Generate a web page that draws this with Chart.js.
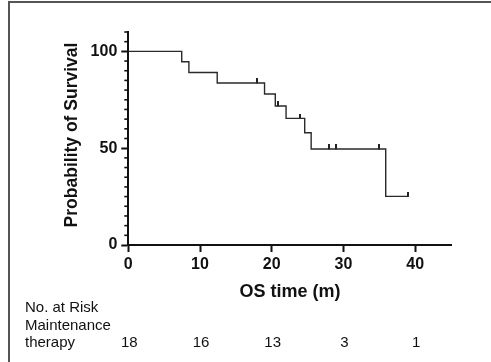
<!DOCTYPE html>
<html>
<head>
<meta charset="UTF-8">
<script src="https://cdn.jsdelivr.net/npm/chart.js"></script>
<style>
  html, body { margin: 0; padding: 0; background: #fff; }
  #wrap { position: relative; width: 491px; height: 362px; overflow: hidden; }
  #frame { position: absolute; left: 8px; top: 1px; width: 600px; height: 600px;
           border-top: 2px solid #555; border-left: 2px solid #555; }
  canvas { position: absolute; left: 0; top: 0; }
</style>
</head>
<body>
<div id="wrap">
  <div id="frame"></div>
  <canvas id="km" width="491" height="362"></canvas>
</div>
<script>
// Kaplan-Meier curve (time in months, survival in %)
const eventTimes = [0, 7.45, 8.45, 12.4, 19.0, 20.5, 22.0, 24.6, 25.5, 35.9, 39.0];
const survival   = [100, 94.6, 89.1, 83.7, 78.0, 71.8, 65.4, 58.0, 49.6, 25.1, 25.1];
// censored observations
const censorTimes = [18.0, 20.9, 24.0, 28.0, 29.0, 35.0, 39.0];
const censorSurv  = [83.7, 71.8, 65.4, 49.6, 49.6, 49.6, 25.1];
// numbers at risk
const riskTimes  = [0, 10, 20, 30, 40];
const riskCounts = [18, 16, 13, 3, 1];
const riskLabels = ['No. at Risk', 'Maintenance', 'therapy'];
const xTicks = [0, 10, 20, 30, 40];
const yLabelled = [0, 50, 100];

const FONT = "'Liberation Sans', Arial, sans-serif";
const INK = '#111';

// censor mark: short vertical stroke above the line
const censorMark = document.createElement('canvas');
censorMark.width = 2; censorMark.height = 9;
(function () {
    const c = censorMark.getContext('2d');
    c.fillStyle = '#222';
    c.fillRect(0, 0, 2, 5);
})();

const minorTicks = {
    id: 'minorTicks',
    afterDraw(chart) {
        const y = chart.scales.y;
        const ctx = chart.ctx;
        ctx.save();
        ctx.strokeStyle = INK;
        ctx.lineWidth = 1.6;
        y.ticks.forEach(t => {
            if (yLabelled.includes(t.value)) return;
            const py = y.getPixelForValue(t.value);
            ctx.beginPath();
            ctx.moveTo(y.right - 4, py);
            ctx.lineTo(y.right, py);
            ctx.stroke();
        });
        ctx.restore();
    }
};

// y title drawn by hand so it can sit a little above the axis centre
const yTitle = {
    id: 'yTitle',
    afterDraw(chart) {
        const ctx = chart.ctx;
        ctx.save();
        ctx.translate(71.7, 135);
        ctx.rotate(-Math.PI / 2);
        ctx.fillStyle = INK;
        ctx.font = 'bold 17.5px ' + FONT;
        ctx.textAlign = 'center';
        ctx.textBaseline = 'middle';
        ctx.fillText('Probability of Survival', 0, 0);
        ctx.restore();
    }
};

const riskTable = {
    id: 'riskTable',
    afterDraw(chart) {
        const x = chart.scales.x;
        const ctx = chart.ctx;
        ctx.save();
        ctx.fillStyle = INK;
        ctx.font = '15px ' + FONT;
        ctx.textBaseline = 'alphabetic';
        ctx.textAlign = 'left';
        const rows = [312, 330, 347];
        riskLabels.forEach((s, i) => ctx.fillText(s, 25, rows[i]));
        ctx.textAlign = 'center';
        riskTimes.forEach((t, i) => {
            ctx.fillText(String(riskCounts[i]), x.getPixelForValue(t) + 1, rows[2]);
        });
        ctx.restore();
    }
};

new Chart(document.getElementById('km'), {
    type: 'line',
    data: {
        datasets: [{
            data: eventTimes.map((t, i) => ({ x: t, y: survival[i] })),
            stepped: 'before',
            borderColor: '#2a2a2a',
            borderWidth: 1.4,
            pointRadius: 0,
            fill: false
        }, {
            data: censorTimes.map((t, i) => ({ x: t, y: censorSurv[i] })),
            showLine: false,
            pointStyle: censorMark,
            pointRadius: 4
        }]
    },
    options: {
        responsive: false,
        animation: false,
        layout: { padding: { top: 32, right: 39.3, left: 0, bottom: 0 } },
        plugins: { legend: { display: false }, tooltip: { enabled: false } },
        scales: {
            x: {
                type: 'linear',
                min: 0,
                max: 45.1,
                afterFit: s => { s.height = 117; },
                afterBuildTicks: s => { s.ticks = xTicks.map(v => ({ value: v })); },
                ticks: {
                    includeBounds: false,
                    autoSkip: false,
                    maxRotation: 0,
                    padding: 3,
                    color: INK,
                    font: { family: FONT, size: 16, weight: 'bold' }
                },
                grid: { drawOnChartArea: false, drawTicks: true, tickLength: 7, tickColor: INK, tickWidth: 2 },
                border: { color: INK, width: 2 },
                title: {
                    display: true,
                    text: 'OS time (m)',
                    color: INK,
                    font: { family: FONT, size: 18, weight: 'bold' },
                    padding: { top: 0, bottom: 59.5 }
                }
            },
            y: {
                type: 'linear',
                min: 0,
                max: 110,
                afterFit: s => { s.width = 128.3; },
                ticks: {
                    stepSize: 5,
                    includeBounds: false,
                    autoSkip: false,
                    padding: 4,
                    color: INK,
                    font: { family: FONT, size: 16, weight: 'bold' },
                    callback: v => yLabelled.includes(v) ? String(v) : ''
                },
                grid: {
                    drawOnChartArea: false, drawTicks: true, tickLength: 7, tickWidth: 2,
                    tickColor: c => yLabelled.includes(c.tick.value) ? INK : 'rgba(0,0,0,0)'
                },
                border: { color: INK, width: 2 }
            }
        }
    },
    plugins: [minorTicks, yTitle, riskTable]
});
</script>
</body>
</html>
